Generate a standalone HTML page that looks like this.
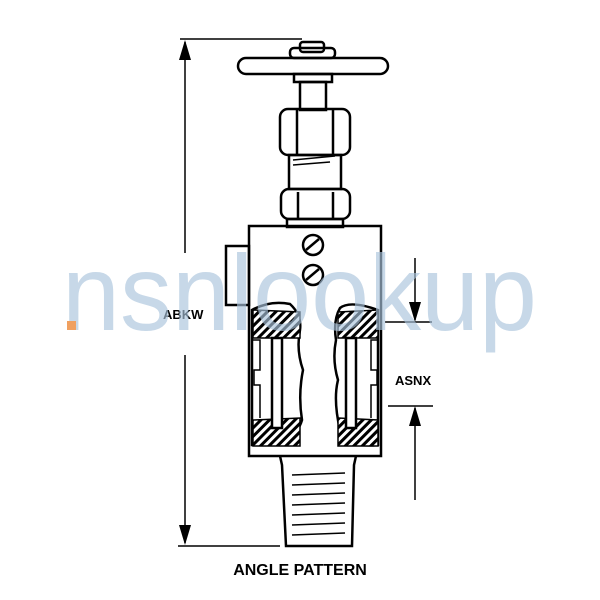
<!DOCTYPE html>
<html><head><style>body{margin:0;background:#fff}svg{display:block}</style></head><body>
<svg width="600" height="600" viewBox="0 0 600 600" xmlns="http://www.w3.org/2000/svg">
<defs>
<pattern id="h" width="6" height="6" patternUnits="userSpaceOnUse" patternTransform="rotate(45)"><rect width="6" height="6" fill="#fff"/><rect width="3" height="6" fill="#000"/></pattern>
</defs>
<g fill="none" stroke="#000" stroke-width="2.5">
<line x1="180" y1="39" x2="302" y2="39" stroke-width="1.5"/>
<line x1="178" y1="546" x2="280" y2="546" stroke-width="1.5"/>
<line x1="185" y1="42" x2="185" y2="253" stroke-width="1.5"/>
<line x1="185" y1="355" x2="185" y2="543" stroke-width="1.5"/>
<line x1="385" y1="322" x2="432" y2="322" stroke-width="1.5"/>
<line x1="388" y1="406" x2="433" y2="406" stroke-width="1.5"/>
<line x1="415" y1="258" x2="415" y2="320" stroke-width="1.5"/>
<line x1="415" y1="408" x2="415" y2="500" stroke-width="1.5"/>
<rect x="300" y="42" width="24" height="10" rx="3"/>
<rect x="290" y="48" width="45" height="10" rx="4"/>
<rect x="238" y="58" width="150" height="16" rx="8"/>
<rect x="294" y="74" width="38" height="8"/>
<rect x="300" y="82" width="26" height="28"/>
<rect x="280" y="109" width="70" height="46" rx="8"/>
<line x1="297" y1="110" x2="297" y2="154"/><line x1="333" y1="110" x2="333" y2="154"/>
<rect x="289" y="155" width="52" height="34"/>
<line x1="293" y1="160" x2="335" y2="156" stroke-width="1.5"/><line x1="293" y1="165" x2="330" y2="162" stroke-width="1.5"/>
<rect x="281" y="189" width="69" height="30" rx="8"/>
<line x1="298" y1="192" x2="298" y2="218"/><line x1="333" y1="192" x2="333" y2="218"/>
<rect x="287" y="219" width="56" height="8"/>
<rect x="226" y="246" width="23" height="59"/>
<rect x="249" y="226" width="132" height="230"/>
<circle cx="313" cy="245" r="10"/><line x1="306" y1="250" x2="319" y2="239"/>
<circle cx="313" cy="275" r="10"/><line x1="306" y1="280" x2="319" y2="269"/>
<path d="M252 310 Q270 300 290 304 Q302 315 300 330 Q296 350 303 370 Q298 395 302 420 Q295 445 252 445 Z" fill="#fff"/>
<path d="M378 310 Q350 300 340 308 Q333 320 336 340 Q332 360 338 380 Q333 400 340 430 Q345 448 378 445 Z" fill="#fff"/>
<path d="M253 310 L300 312 L300 338 L253 338 Z" fill="url(#h)" stroke-width="1.5"/>
<path d="M253 420 L300 418 L300 446 L253 446 Z" fill="url(#h)" stroke-width="1.5"/>
<path d="M338 312 L378 310 L378 338 L338 338 Z" fill="url(#h)" stroke-width="1.5"/>
<path d="M338 418 L378 420 L378 446 L338 446 Z" fill="url(#h)" stroke-width="1.5"/>
<rect x="272" y="338" width="10" height="90" fill="#fff"/>
<rect x="346" y="338" width="10" height="90" fill="#fff"/>
<path d="M253 340 H260 V370 H254 V385 H260 V418" stroke-width="1.5"/>
<path d="M378 340 H371 V370 H377 V385 H371 V418" stroke-width="1.5"/>
<path d="M280 456 L282 465 L286 546 L352 546 L354 465 L356 456"/>
<g stroke-width="1.5">
<line x1="292" y1="475" x2="345" y2="473"/><line x1="292" y1="485" x2="345" y2="483"/>
<line x1="292" y1="495" x2="345" y2="493"/><line x1="292" y1="505" x2="345" y2="503"/>
<line x1="292" y1="515" x2="345" y2="513"/><line x1="292" y1="525" x2="345" y2="523"/>
<line x1="292" y1="535" x2="345" y2="533"/>
</g>
</g>
<g fill="#000">
<polygon points="185,40 179,60 191,60"/>
<polygon points="185,545 179,525 191,525"/>
<polygon points="415,322 409,302 421,302"/>
<polygon points="415,406 409,426 421,426"/>
</g>
<g font-family="Liberation Sans, sans-serif" font-weight="bold" fill="#000">
<text x="163" y="319" font-size="13">ABKW</text>
<text x="395" y="385" font-size="13">ASNX</text>
<text x="300" y="575" font-size="16" text-anchor="middle">ANGLE PATTERN</text>
</g>
<text x="62" y="330" font-family="Liberation Sans, sans-serif" font-size="108" fill="#a9c3dc" fill-opacity="0.65" textLength="475" lengthAdjust="spacingAndGlyphs">nsnlookup</text>
<rect x="67" y="321" width="9" height="9" fill="#f0a060"/>
</svg>
</body></html>
